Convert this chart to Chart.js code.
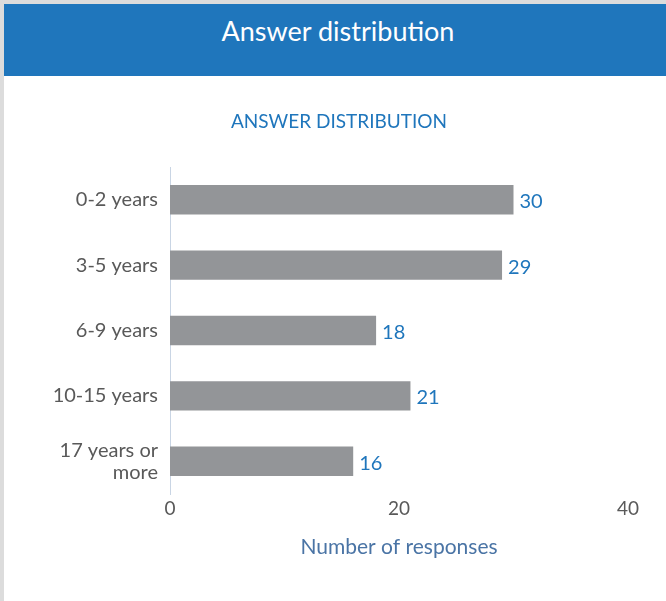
<!DOCTYPE html>
<html>
<head>
<meta charset="utf-8">
<script src="https://cdn.jsdelivr.net/npm/chart.js@4"></script>
<style>
    body { margin: 0; background: #fff; font-family: Lato, "Open Sans", sans-serif; }
    #frame { position: absolute; left: 0; top: 0; width: 666px; height: 601px; border-left: 4px solid #dcdcdc; border-top: 4px solid #dcdcdc; box-sizing: border-box; }
    #header { height: 72px; background: #1f76bc; color: #fff; font-size: 27px; text-align: center; line-height: 54px; padding-left: 6px; }
    #box { position: relative; width: 662px; height: 525px; }
    #chart-title { position: absolute; left: 8px; right: 0; top: 33px; text-align: center; color: #1f76bc; font-size: 19px; line-height: 23px; }
</style>
</head>
<body>
<div id="frame">
    <div id="header">Answer distribution</div>
    <div id="box">
        <div id="chart-title">ANSWER DISTRIBUTION</div>
        <canvas id="myChart"></canvas>
    </div>
</div>
<script>
const labels = ["0-2 years", "3-5 years", "6-9 years", "10-15 years", ["17 years or", "more"]];
const values = [30, 29, 18, 21, 16];

const valueLabels = {
    id: 'valueLabels',
    afterDatasetsDraw(chart) {
        let ctx = chart.ctx;
        ctx.save();
        ctx.fillStyle = '#1f76bc';
        ctx.font = '20px Lato, "Open Sans", sans-serif';
        ctx.textBaseline = 'middle';
        chart.getDatasetMeta(0).data.forEach((bar, i) => {
            ctx.fillText(values[i], bar.x + 6, bar.y + 2);
        });
        ctx.restore();
    }
};

const config = {
    type: 'bar',
    data: {
        labels: labels,
        datasets: [{
            data: values,
            backgroundColor: '#939598',
            barPercentage: 0.45,
            categoryPercentage: 1
        }]
    },
    options: {
        indexAxis: 'y',
        responsive: true,
        maintainAspectRatio: false,
        animation: false,
        layout: { padding: { left: 0, right: 38, top: 91, bottom: 37 } },
        plugins: {
            legend: { display: false },
            tooltip: { enabled: false },
            title: { display: false }
        },
        scales: {
            x: {
                min: 0,
                max: 40,
                ticks: { stepSize: 20, color: '#595959', font: { family: 'Lato', size: 19 }, padding: 3 },
                grid: { display: false, drawTicks: false },
                border: { display: false },
                title: {
                    display: true,
                    text: 'Number of responses',
                    color: '#4a74a5',
                    font: { family: 'Lato', size: 21 },
                    padding: { top: 12 }
                }
            },
            y: {
                ticks: { color: '#595959', font: { family: 'Lato', size: 20, lineHeight: 1.1 }, padding: 12 },
                grid: { display: false, drawTicks: false },
                border: { display: true, color: '#c9d5e4', width: 1 },
                afterFit: (scale) => { scale.width = 166; }
            }
        }
    },
    plugins: [valueLabels]
};

var myChart = new Chart(document.getElementById('myChart'), config);
</script>
</body>
</html>
